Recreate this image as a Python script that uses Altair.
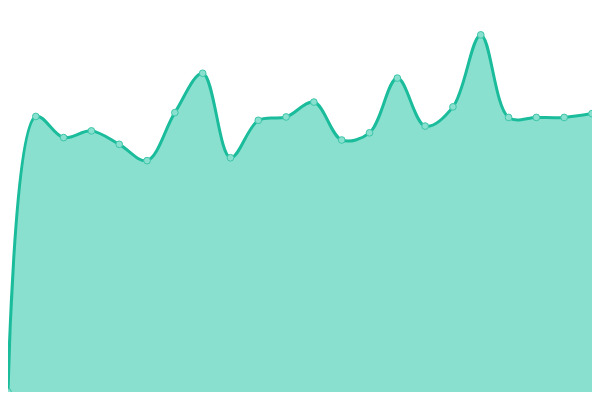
import altair as alt
import pandas as pd

idx = list(range(22))
values = [0, 287, 265, 272, 258, 241, 291, 332, 244, 283, 286.5, 302,
          262.5, 270, 327, 277, 297, 372, 286, 286, 286, 290]

df = pd.DataFrame({"i": idx, "v": values})

x = alt.X("i:Q", axis=None, scale=alt.Scale(domain=[0, 21], nice=False, zero=False))
y = alt.Y("v:Q", axis=None, scale=alt.Scale(domain=[0, 400], nice=False))

base = alt.Chart(df).encode(x=x, y=y)

area = base.mark_area(interpolate="catmull-rom", color="#8ae0cf", opacity=1)
line = base.mark_line(interpolate="catmull-rom", color="#1abc9c", strokeWidth=3)
pts = base.mark_point(filled=True, size=45, fill="#8ae0cf", stroke="#3cc6aa",
                      strokeWidth=1, opacity=1)

chart = alt.layer(area, line, pts).properties(
    width=584, height=384,
    autosize=alt.AutoSizeParams(type="none"),
    padding=0,
    view=alt.ViewBackground(strokeOpacity=0, strokeWidth=0),
).configure_view(strokeOpacity=0, strokeWidth=0).configure(background="white")

chart.save("out.html", embed_options={"renderer": "svg", "actions": False})
